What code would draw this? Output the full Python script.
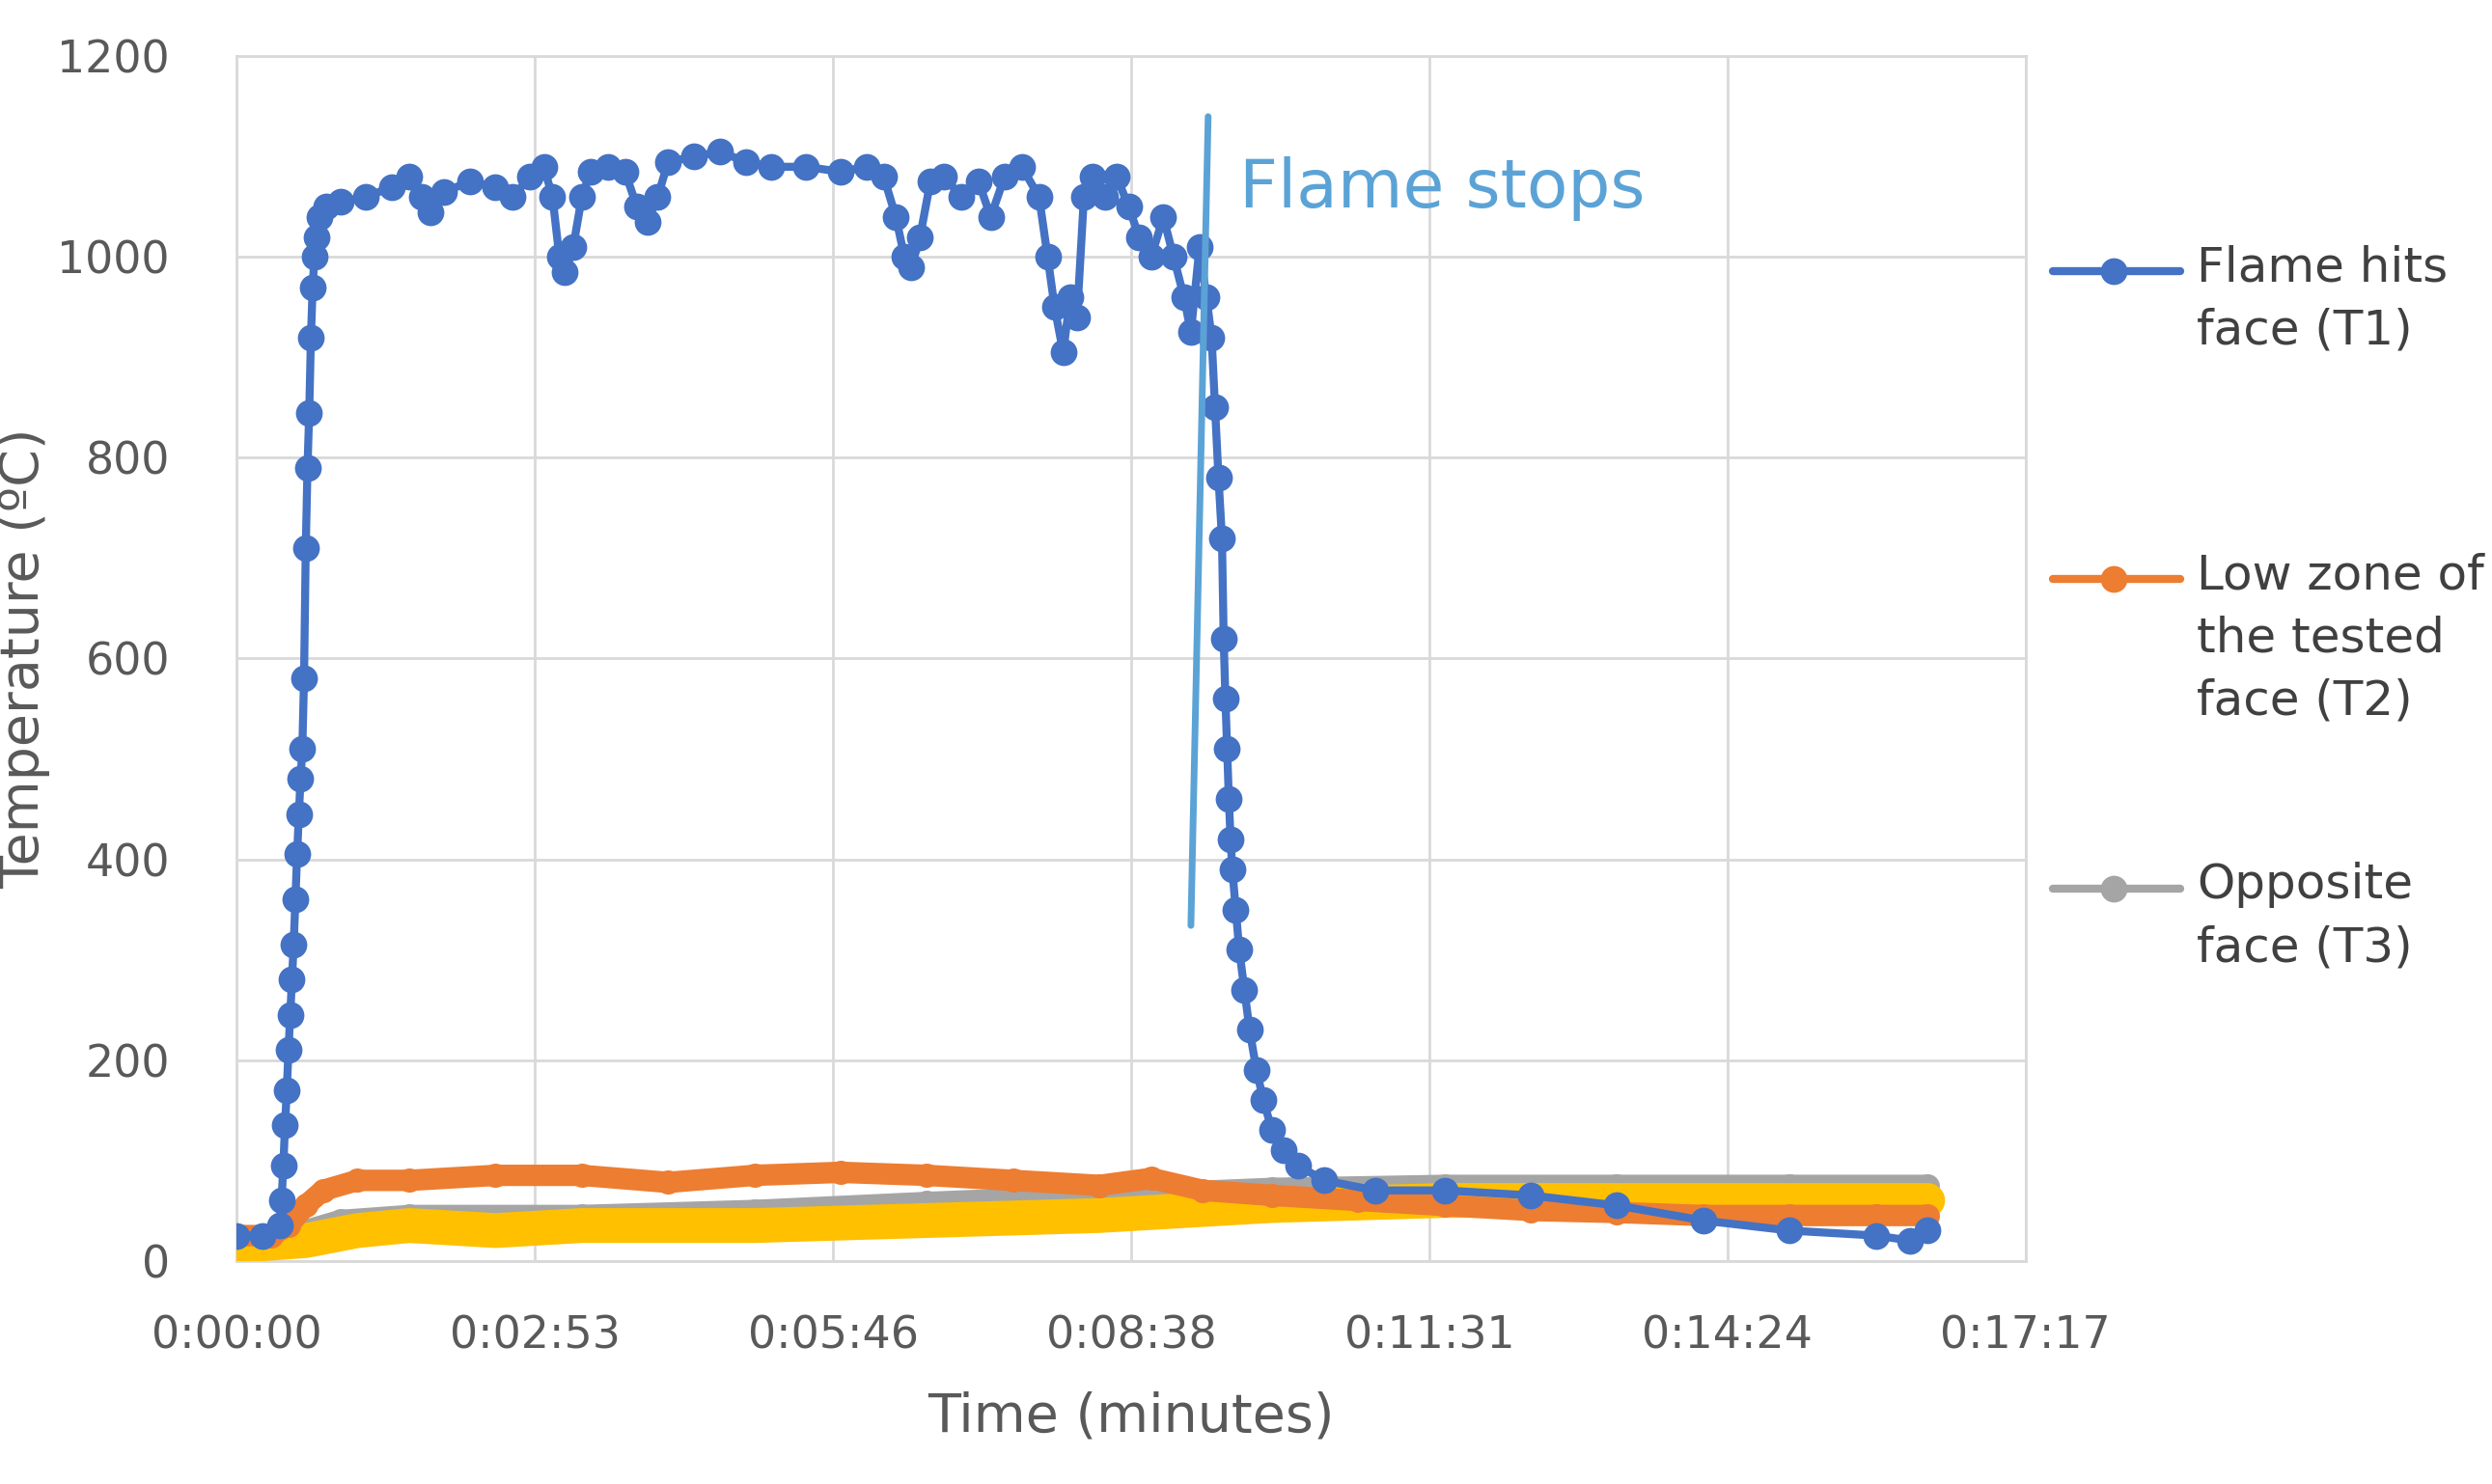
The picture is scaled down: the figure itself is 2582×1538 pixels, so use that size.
import numpy as np, pandas as pd, seaborn as sns, matplotlib
matplotlib.use("Agg")
import matplotlib.pyplot as plt
from matplotlib.lines import Line2D

t1 = [0,15,25,26,27,28,29,30,31,32,33,34,35,36,37,38,39,40,41,42,43,44,45,46,48,52,60,75,90,100,107,112,120,135,150,160,170,178,183,187,190,195,200,205,215,225,232,238,244,250,265,280,295,310,330,350,365,375,382,387,391,396,402,410,420,430,437,445,455,465,470,474,479,483,487,491,496,503,510,517,523,530,537,543,549,553,558,562,565,567,569,571,572,573,574,575,576,577,579,581,584,587,591,595,600,607,615,630,660,700,750,800,850,900,950,970,980]
v1 = [25,25,35,60,95,135,170,210,245,280,315,360,405,445,480,510,580,710,790,845,920,970,1000,1020,1040,1050,1055,1060,1070,1080,1060,1045,1065,1075,1070,1060,1080,1090,1060,1000,985,1010,1060,1085,1090,1085,1050,1035,1060,1095,1100,1105,1095,1090,1090,1085,1090,1080,1040,1000,990,1020,1075,1080,1060,1075,1040,1080,1090,1060,1000,950,905,960,940,1060,1080,1060,1080,1050,1020,1000,1040,1000,960,925,1010,960,920,850,780,720,620,560,510,460,420,390,350,310,270,230,190,160,130,110,95,80,70,70,65,55,40,30,25,20,30]
t2 = [0,20,30,40,50,70,100,150,200,250,300,350,400,450,500,530,560,600,650,700,750,800,850,900,950,980]
v2 = [25,25,35,55,70,80,80,85,85,78,85,88,85,80,75,82,70,65,60,55,50,48,45,45,45,45]
t3 = [0,30,60,100,200,300,400,500,600,700,800,900,980]
v3 = [20,25,40,45,45,50,58,65,72,75,75,75,75]
t4 = [0,40,70,100,150,200,300,400,500,600,700,800,900,980]
v4 = [15,20,30,35,30,35,35,40,45,55,60,60,60,60]
labels = ["Flame hits\nface (T1)", "Low zone of\nthe tested\nface (T2)", "Opposite\nface (T3)"]
colors = ["#4472C4", "#ED7D31", "#A5A5A5", "#FFC000"]
flame_t = [553, 563]; flame_v = [334, 1140]

sns.set_theme(style="white")
plt.rcParams['font.family'] = ['DejaVu Sans']
fig = plt.figure(figsize=(25.82, 15.38), dpi=100)
ax = fig.add_axes([0.095, 0.1505, 0.718, 0.8115])

for t, v, c, lw, ms in [(t3, v3, colors[2], 16, 18), (t4, v4, colors[3], 26, 20),
                        (t2, v2, colors[1], 16, 18), (t1, v1, colors[0], 6, 20)]:
    sns.lineplot(x=t, y=v, ax=ax, color=c, lw=lw, marker='o', markersize=ms,
                 markeredgewidth=0, zorder=3)

ax.plot(flame_t, flame_v, color="#5BA3D6", lw=5, zorder=4)
ax.text(581, 1068, "Flame stops", color="#5BA3D6", fontsize=50, va='center', zorder=5)

ax.set_xlim(0, 1037)
ax.set_ylim(0, 1200)
ticks = [k * 172.8 for k in range(7)]
ax.set_xticks(ticks)
def fmt(s):
    s = int(round(s)); return f"{s//3600}:{(s%3600)//60:02d}:{s%60:02d}"
ax.set_xticklabels([fmt(s) for s in ticks])
ax.set_yticks(range(0, 1201, 200))
ax.tick_params(labelsize=33, colors="#595959", length=0)
ax.tick_params(axis='x', pad=40)
ax.tick_params(axis='y', pad=50)
ax.grid(True, color="#D9D9D9", lw=2)
for sp in ax.spines.values():
    sp.set_color("#D9D9D9"); sp.set_linewidth(2)
ax.set_xlabel("Time (minutes)", fontsize=40, color="#595959", labelpad=25)
ax.set_ylabel("Temperature (ºC)", fontsize=40, color="#595959", labelpad=5)

ys = [1 - 170/930, 1 - 363/930, 1 - 557/930]
for y, lab, c in zip(ys, labels, colors[:3]):
    fig.add_artist(Line2D([1285/1560, 1365/1560], [y, y], color=c, lw=6,
                          transform=fig.transFigure))
    fig.add_artist(Line2D([1323/1560], [y], color=c, marker='o', markersize=20,
                          markeredgewidth=0, transform=fig.transFigure))
    fig.text(1375/1560, y + 0.018, lab, fontsize=36, color="#404040", va='top',
             linespacing=1.45)

fig.savefig("out.png", dpi=100)
